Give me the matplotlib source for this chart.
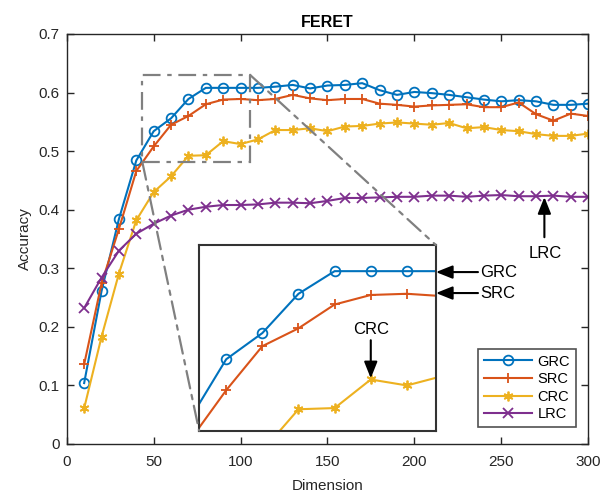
import matplotlib
matplotlib.use('Agg')
from matplotlib import pyplot as plt
from matplotlib.patches import Rectangle, ConnectionPatch
from matplotlib.ticker import FuncFormatter
import numpy as np

plt.rcParams['font.family'] = ['Liberation Sans', 'DejaVu Sans']

# dimensions 10..300
dims = list(range(10, 310, 10))

grc = [0.104, 0.261, 0.384, 0.484, 0.534, 0.556, 0.589, 0.608, 0.608, 0.608,
       0.608, 0.610, 0.613, 0.607, 0.612, 0.613, 0.616, 0.604, 0.596, 0.601,
       0.599, 0.596, 0.592, 0.588, 0.585, 0.587, 0.585, 0.579, 0.579, 0.581]
src = [0.136, 0.274, 0.367, 0.466, 0.508, 0.545, 0.560, 0.580, 0.588, 0.589,
       0.587, 0.589, 0.596, 0.590, 0.587, 0.589, 0.589, 0.581, 0.579, 0.576,
       0.578, 0.579, 0.580, 0.575, 0.575, 0.583, 0.563, 0.552, 0.564, 0.560]
crc = [0.061, 0.183, 0.291, 0.382, 0.430, 0.457, 0.492, 0.493, 0.517, 0.512,
       0.520, 0.536, 0.536, 0.539, 0.534, 0.542, 0.543, 0.547, 0.549, 0.547,
       0.545, 0.548, 0.539, 0.541, 0.536, 0.534, 0.529, 0.526, 0.526, 0.530]
lrc = [0.232, 0.284, 0.330, 0.359, 0.376, 0.390, 0.400, 0.405, 0.408, 0.408,
       0.409, 0.412, 0.412, 0.411, 0.415, 0.420, 0.420, 0.421, 0.422, 0.422,
       0.424, 0.424, 0.422, 0.424, 0.425, 0.423, 0.423, 0.424, 0.422, 0.422]

series = [
    ('GRC', grc, '#0072BD', 'o'),
    ('SRC', src, '#D95319', '+'),
    ('CRC', crc, '#EDB120', (6, 2, 0)),
    ('LRC', lrc, '#7E2F8E', 'x'),
]

# zoom window
zoom_x = (43.5, 105.5)
zoom_y = (0.481, 0.630)
inset_x = (42.5, 108)
inset_y = (0.474, 0.630)

AX_COLOR = '#262626'


def style_axes(ax):
    for s in ax.spines.values():
        s.set_color(AX_COLOR)
        s.set_linewidth(1.0)


def draw_series(ax, with_labels=True):
    for name, vals, color, marker in series:
        mfc = 'none' if marker == 'o' else color
        ax.plot(dims, vals, color=color, lw=1.5, marker=marker, ms=7,
                mfc=mfc, mec=color, mew=1.3,
                label=name if with_labels else None)


fig = plt.figure(figsize=(6.07, 4.93), dpi=100)
ax = fig.add_axes([0.110, 0.0994, 0.859, 0.8317])
draw_series(ax)
ax.set_xlim(0, 300)
ax.set_ylim(0, 0.7)
ax.set_xticks(np.arange(0, 301, 50))
ax.set_yticks(np.arange(0, 0.71, 0.1))
ax.yaxis.set_major_formatter(FuncFormatter(lambda v, p: '0' if abs(v) < 1e-9 else ('%.1f' % v)))
ax.tick_params(direction='in', top=True, right=True, length=5, width=1.0,
               color=AX_COLOR, labelsize=11, labelcolor=AX_COLOR)
ax.tick_params(axis='x', pad=8)
ax.tick_params(axis='y', pad=5)
style_axes(ax)
ax.set_xlabel('Dimension', fontsize=11, color=AX_COLOR, labelpad=7)
ax.set_ylabel('Accuracy', fontsize=11, color=AX_COLOR, labelpad=5)
ax.set_title('FERET', fontsize=11.5, fontweight='bold', color='black', pad=5)

leg = ax.legend(loc='lower right', bbox_to_anchor=(0.985, 0.03), fontsize=10.5,
                frameon=True, fancybox=False, edgecolor=AX_COLOR,
                handlelength=3.3, handletextpad=0.4, labelspacing=0.25,
                borderpad=0.4, borderaxespad=0.3)
leg.get_frame().set_linewidth(1.2)

# dash-dot zoom box
gray = '#808080'
rect = Rectangle((zoom_x[0], zoom_y[0]), zoom_x[1] - zoom_x[0], zoom_y[1] - zoom_y[0],
                 fill=False, edgecolor=gray, lw=1.6, linestyle=(0, (8, 3, 2, 3)), zorder=5)
ax.add_patch(rect)

# inset
axin = fig.add_axes([0.328, 0.1264, 0.390, 0.3767])
draw_series(axin, with_labels=False)
axin.set_xlim(*inset_x)
axin.set_ylim(*inset_y)
axin.set_xticks([])
axin.set_yticks([])
for s in axin.spines.values():
    s.set_color('#333333')
    s.set_linewidth(1.5)

for (xa, ya), (xb, yb) in [((zoom_x[1], zoom_y[1]), (1, 1)), ((zoom_x[0], zoom_y[0]), (0, 0))]:
    con = ConnectionPatch(xyA=(xa, ya), coordsA=ax.transData,
                          xyB=(xb, yb), coordsB=axin.transAxes,
                          color=gray, lw=1.6, linestyle=(0, (8, 3, 2, 3)), zorder=1)
    fig.add_artist(con)

arrow = dict(arrowstyle='-|>,head_length=1.0,head_width=0.4', color='black',
             lw=1.5, shrinkA=0, shrinkB=0)
ax.annotate('', xy=(212.4, 0.2935), xytext=(236.6, 0.2935), arrowprops=arrow,
            annotation_clip=False)
ax.text(237.8, 0.2935, 'GRC', fontsize=12, va='center', ha='left')
ax.annotate('', xy=(212.4, 0.2577), xytext=(236.6, 0.2577), arrowprops=arrow)
ax.text(237.8, 0.2577, 'SRC', fontsize=12, va='center', ha='left')

# CRC label lives inside the inset
axin.annotate('', xy=(90, 0.518), xytext=(90, 0.550), arrowprops=arrow)
axin.text(90, 0.5586, 'CRC', fontsize=12, va='center', ha='center')

ax.annotate('', xy=(274.8, 0.4215), xytext=(274.8, 0.353), arrowprops=arrow)
ax.text(275.5, 0.326, 'LRC', fontsize=12, va='center', ha='center')

fig.savefig('out.png', dpi=100)
